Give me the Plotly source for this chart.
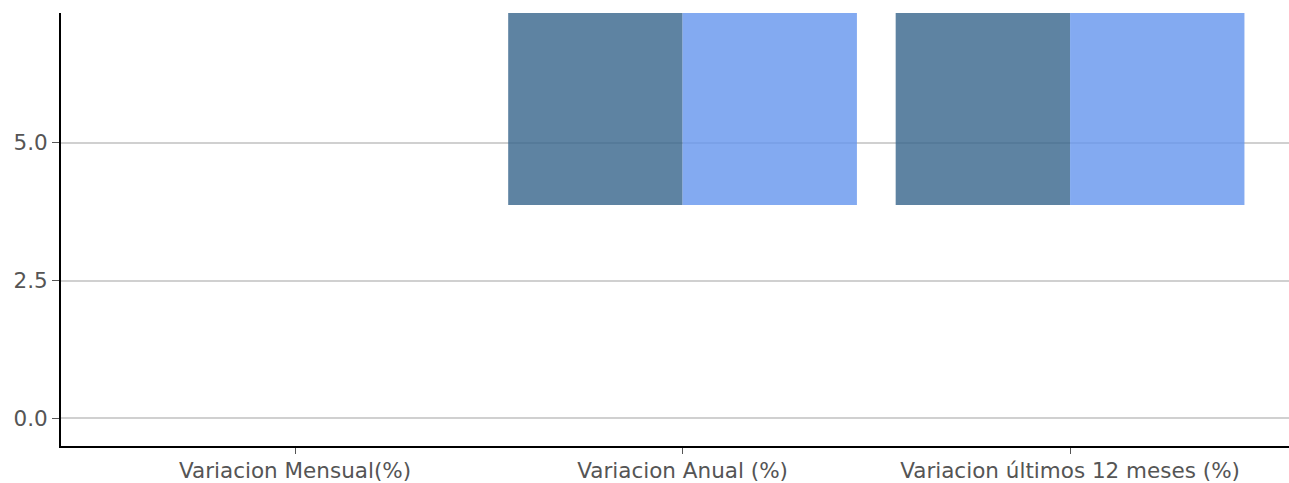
import plotly.graph_objects as go

categories = ["Variacion Mensual(%)", "Variacion Anual (%)", "Variacion últimos 12 meses (%)"]
series_a_base = [None, 3.87, 3.87]
series_a_vals = [None, 10.0, 10.0]
series_b_base = [None, 3.87, 3.87]
series_b_vals = [None, 10.0, 10.0]

fig = go.Figure()
fig.add_trace(go.Bar(x=categories, y=series_a_vals, base=series_a_base,
                     marker=dict(color="#36648B", line=dict(width=0)), opacity=0.8, name="A"))
fig.add_trace(go.Bar(x=categories, y=series_b_vals, base=series_b_base,
                     marker=dict(color="#6495ED", line=dict(width=0)), opacity=0.8, name="B"))

fig.update_layout(
    width=1289, height=483,
    margin=dict(l=61, r=0, t=13, b=35),
    barmode="group", bargap=0.1, bargroupgap=0,
    showlegend=False,
    plot_bgcolor="white", paper_bgcolor="white",
    font=dict(family="DejaVu Sans", size=21.5, color="#555555"),
)
fig.update_xaxes(range=[-0.604, 2.565], showline=True, linecolor="black", linewidth=2,
                 ticks="outside", ticklen=6, tickcolor="#555555", showgrid=False,
                 ticklabelstandoff=-2)
fig.update_yaxes(range=[-0.5, 7.35], showline=True, linecolor="black", linewidth=2,
                 ticks="outside", ticklen=7, tickcolor="#555555",
                 tickvals=[0, 2.5, 5], ticktext=["0.0", "2.5", "5.0"],
                 showgrid=True, gridcolor="#d0d0d0", gridwidth=2, zeroline=False)

fig.write_html("out.html",
               config={"displayModeBar": False},
               post_script="document.body.style.margin='0';")
